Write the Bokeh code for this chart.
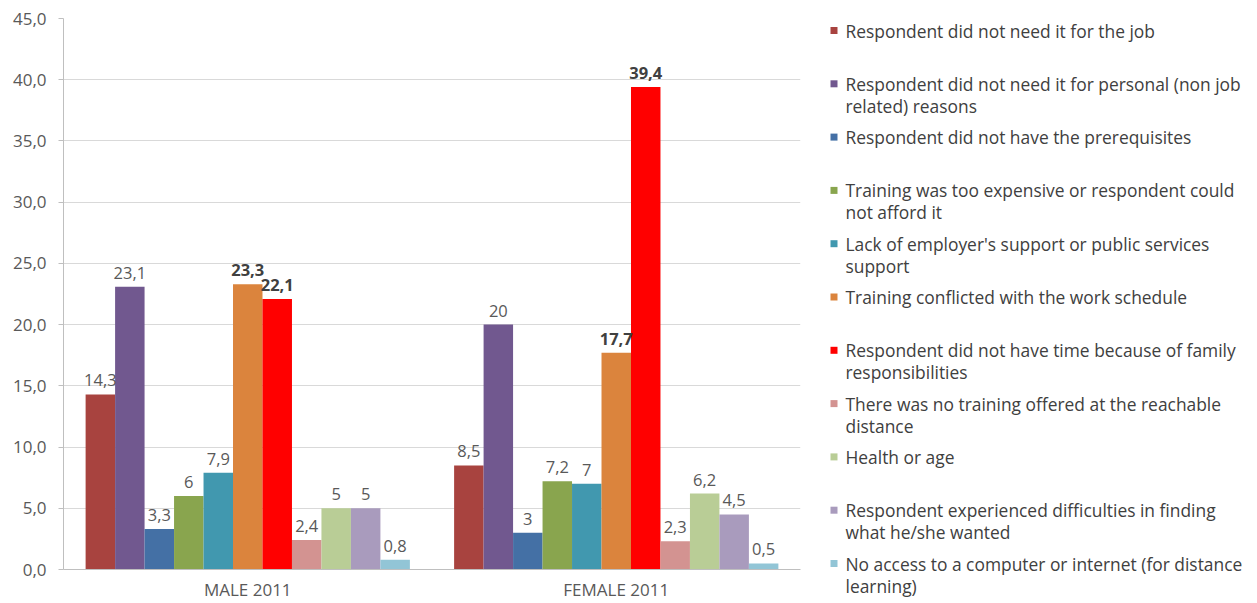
from bokeh.plotting import figure
from bokeh.models import (ColumnDataSource, FactorRange, Range1d, FixedTicker,
                          CustomJSTickFormatter)
from bokeh.transform import dodge
from bokeh.layouts import row
from bokeh.core.properties import value
from bokeh.embed import file_html
from bokeh.resources import INLINE

# --- data -----------------------------------------------------------------
groups = ["MALE 2011", "FEMALE 2011"]

reasons = [
    "Respondent did not need it for the job",
    "Respondent did not need it for personal (non job\nrelated) reasons",
    "Respondent did not have the prerequisites",
    "Training was too expensive or respondent could\nnot afford it",
    "Lack of employer's support or public services\nsupport",
    "Training conflicted with the work schedule",
    "Respondent  did not have time because of family\nresponsibilities",
    "There was no training offered at the reachable\ndistance",
    "Health or age",
    "Respondent experienced difficulties in finding\nwhat he/she wanted",
    "No access to a computer or internet (for distance\nlearning)",
]

male = [14.3, 23.1, 3.3, 6, 7.9, 23.3, 22.1, 2.4, 5, 5, 0.8]
female = [8.5, 20, 3, 7.2, 7, 17.7, 39.4, 2.3, 6.2, 4.5, 0.5]

colors = ["#A8433F", "#71588F", "#4470A5", "#89A54E", "#4198AF", "#DB843D",
          "#FF0000", "#D39391", "#B9CD96", "#A99BBD", "#92C5D6"]

bold_series = {5, 6}

y_ticks = [0, 5, 10, 15, 20, 25, 30, 35, 40, 45]

FONT = "Open Sans"
GREY = "#595959"

# --- bar chart --------------------------------------------------------------
FRAME_TOP, FRAME_BOTTOM = 18, 569

p = figure(x_range=FactorRange(*groups, range_padding=0),
           y_range=Range1d(0, 45),
           width=815, height=603,
           min_border_left=63, min_border_right=15,
           min_border_top=FRAME_TOP, min_border_bottom=603 - FRAME_BOTTOM,
           output_backend="svg", toolbar_location=None,
           background_fill_color="white", border_fill_color="white")
p.outline_line_color = None

n = len(reasons)
bar_w = 0.88 / n


def fmt(v):
    return ("%g" % v).replace(".", ",")


for i in range(n):
    off = -0.44 + bar_w * (i + 0.5)
    src = ColumnDataSource(dict(
        g=groups,
        v=[male[i], female[i]],
        lab=[fmt(male[i]), fmt(female[i])],
    ))
    p.vbar(x=dodge("g", off, range=p.x_range), top="v", width=bar_w,
           source=src, fill_color=colors[i], line_color=None)
    bold = i in bold_series
    p.text(x=dodge("g", off, range=p.x_range), y="v", text="lab", source=src,
           text_align="center", text_baseline="alphabetic", y_offset=-14,
           text_font=value(FONT), text_font_size="16.5px",
           text_font_style="bold" if bold else "normal",
           text_color="#404040" if bold else GREY, level="overlay")

# category axis
p.xaxis.axis_line_color = "#BFBFBF"
p.xaxis.major_tick_line_color = None
p.xaxis.major_tick_out = 0
p.xaxis.minor_tick_line_color = None
p.xaxis.major_label_standoff = 8
p.xaxis.major_label_text_font = FONT
p.xaxis.major_label_text_font_size = "17px"
p.xaxis.major_label_text_color = GREY

# value axis
p.yaxis.ticker = FixedTicker(ticks=y_ticks)
p.yaxis.formatter = CustomJSTickFormatter(
    code="return tick.toFixed(1).replace('.', ',');")
p.yaxis.axis_line_color = "#BFBFBF"
p.yaxis.major_tick_line_color = "#BFBFBF"
p.yaxis.major_tick_out = 5
p.yaxis.major_tick_in = 0
p.yaxis.minor_tick_line_color = None
p.yaxis.major_label_standoff = 12
p.yaxis.major_label_text_font = FONT
p.yaxis.major_label_text_font_size = "17px"
p.yaxis.major_label_text_color = GREY

p.xgrid.grid_line_color = None
p.ygrid.grid_line_color = "#D9D9D9"
p.ygrid.ticker = FixedTicker(ticks=y_ticks)

# --- legend panel -----------------------------------------------------------
# The row shares the plot's frame, so the legend range is set to page pixels.
leg = figure(x_range=Range1d(0, 442), y_range=Range1d(FRAME_BOTTOM, FRAME_TOP),
             width=442, height=603, min_border=0,
             x_axis_location=None, y_axis_location=None,
             output_backend="svg", toolbar_location=None,
             background_fill_color="white", border_fill_color="white")
leg.outline_line_color = None
leg.grid.visible = False

step = 53.3
first_line, second_line = [], []
ys1, ys2 = [], []
for i, r in enumerate(reasons):
    parts = r.split("\n")
    y0 = 30 + i * step
    first_line.append(parts[0])
    ys1.append(y0)
    if len(parts) > 1:
        second_line.append(parts[1])
        ys2.append(y0 + 22)

leg.rect(x=[18.5] * n, y=ys1, width=7, height=7, fill_color=colors,
         line_color=None, level="overlay")
leg.text(x=[30] * n, y=ys1, text=first_line, text_baseline="middle",
         text_font=value(FONT), text_font_size="17.4px", text_color="#404040",
         level="overlay")
leg.text(x=[30] * len(second_line), y=ys2, text=second_line,
         text_baseline="middle", text_font=value(FONT),
         text_font_size="17.4px", text_color="#404040", level="overlay")

layout = row(p, leg)
open("out.html", "w").write(file_html(layout, INLINE))
